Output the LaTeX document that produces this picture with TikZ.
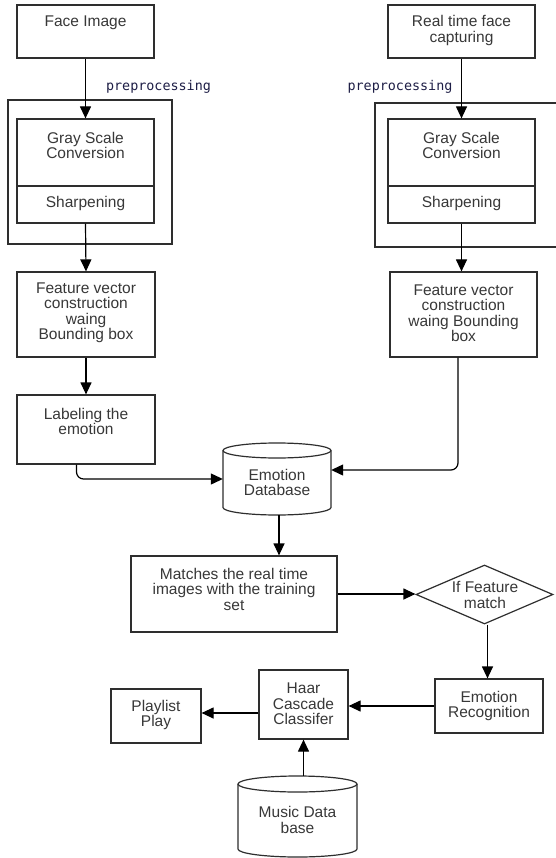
\documentclass[tikz,border=0pt]{standalone}
\usepackage{fontspec}
\setmainfont{Liberation Sans}
\newfontfamily\prepfont{DejaVu Sans Mono}
\usetikzlibrary{arrows.meta,shapes.geometric}
\definecolor{txtc}{HTML}{383838}
\definecolor{linec}{HTML}{2E2E2E}
\definecolor{prepc}{HTML}{1E1E46}
\begin{document}
\begin{tikzpicture}[x=1pt,y=-1pt,
  box/.style={draw=linec, line width=1.2pt, inner sep=0pt},
  hidden/.style={inner sep=0pt},
  txt/.style={text=txtc, font=\fontsize{15.5}{15.5}\selectfont, align=center, inner sep=0pt},
  arr/.style={draw=black, line width=1.2pt, -{Triangle[length=12pt,width=11pt]}},
  cyl/.style={draw=linec, line width=1.2pt},
  prep/.style={text=prepc, font=\prepfont\fontsize{13.4}{14}\selectfont, inner sep=0pt}]
\fill[white] (0,0) rectangle (555,858);
\useasboundingbox (0,0) rectangle (555,858);

% left column
\node[box, minimum width=137pt, minimum height=53pt] (fi) at (85.5,31.5) {};
\node[box, minimum width=164pt, minimum height=144pt] (ol) at (90,172) {};
\node[box, minimum width=137pt, minimum height=67pt] (gl) at (85.5,152.5) {};
\node[box, minimum width=137pt, minimum height=37pt] (sl) at (85.5,204.5) {};
\node[box, minimum width=138pt, minimum height=85pt] (fl) at (86,314.5) {};
\node[box, minimum width=138pt, minimum height=69pt] (lb) at (86,429.5) {};

% right column
\node[box, minimum width=183pt, minimum height=144pt] (orr) at (466.5,175) {};
\node[box, minimum width=147pt, minimum height=53pt] (rt) at (461.5,31.5) {};
\node[box, minimum width=147pt, minimum height=67pt] (gr) at (461.5,152.5) {};
\node[box, minimum width=147pt, minimum height=37pt] (sr) at (461.5,204.5) {};
\node[box, minimum width=147pt, minimum height=85pt] (fr) at (463.5,314.5) {};

% emotion database cylinder
\node[hidden, minimum width=108pt, minimum height=72pt] (edb) at (277,479) {};
\draw[cyl] (277,450.5) ellipse[x radius=54pt, y radius=7.5pt];
\draw[cyl] (223,450.5) -- (223,507.5) arc[start angle=180, end angle=360, x radius=54pt, y radius=7.5pt] -- (331,450.5);

% lower part
\node[box, minimum width=206pt, minimum height=76pt] (mt) at (234,594) {};
\node[box, shape=diamond, minimum width=137pt, minimum height=59pt] (dia) at (484.5,594.5) {};
\node[box, minimum width=108pt, minimum height=54pt] (er) at (489,706) {};
\node[box, minimum width=89pt, minimum height=69pt] (hr) at (303.5,704.5) {};
\node[box, minimum width=90pt, minimum height=54pt] (pl) at (156,716) {};

% music cylinder
\node[hidden, minimum width=119pt, minimum height=81pt] (mu) at (297.5,816.5) {};
\draw[cyl] (297.5,784) ellipse[x radius=59.5pt, y radius=8pt];
\draw[cyl] (238,784) -- (238,849) arc[start angle=180, end angle=360, x radius=59.5pt, y radius=8pt] -- (357,784);

% texts
\node[txt] (t1) at (85.5,22.5) {Face Image};
\node[txt] (t2) at (85.5,145.5) {Gray Scale\\Conversion};
\node[txt] (t3) at (85.5,203.5) {Sharpening};
\node[txt] (t4) at (86,313) {Feature vector\\construction\\waing\\Bounding box};
\node[txt] (t5) at (86,421.5) {Labeling the\\emotion};
\node[txt] (t6) at (461.5,30.5) {Real time face\\capturing};
\node[txt] (t7) at (461.5,145.5) {Gray Scale\\Conversion};
\node[txt] (t8) at (461.5,203.5) {Sharpening};
\node[txt] (t9) at (463.5,313) {Feature vector\\construction\\waing Bounding\\box};
\node[txt] (t10) at (277,482.5) {Emotion\\Database};
\node[txt] (t11) at (234,589) {Matches the real time\\images with the training\\set};
\node[txt] (t12) at (485,595) {If Feature\\match};
\node[txt] (t13) at (489,706) {Emotion\\Recognition};
\node[txt] (t14) at (303.5,704) {Haar\\Cascade\\Classifer};
\node[txt] (t15) at (156,715) {Playlist\\Play};
\node[txt] (t16) at (297.5,820) {Music Data\\base};
\node[prep] (p1) at (158.5,87) {preprocessing};
\node[prep] (p2) at (400,87) {preprocessing};

% connectors
\draw[arr] (fi.south) -- (gl.north);
\draw[arr] (sl.south) -- (fl.north);
\draw[arr] (fl.south) -- (lb.north);
\draw[arr] (rt.south) -- (gr.north);
\draw[arr] (sr.south) -- (sr.south |- fr.north);
\draw[arr, rounded corners=7pt] ([xshift=-9.5pt]lb.south) |- (edb.west);
\draw[arr, rounded corners=7pt] ([xshift=-5.5pt]fr.south) |- ([yshift=9pt]edb.east);
\draw[arr] ([xshift=2pt]edb.south) -- ([xshift=2pt]edb.south |- mt.north);
\draw[arr] (mt.east) -- (mt.east -| dia.west);
\draw[arr] ([xshift=3pt]dia.south) -- ([xshift=3pt]dia.south |- er.north);
\draw[arr] (er.west) -- (er.west -| hr.east);
\draw[arr] ([yshift=-8.5pt]hr.west) -- ([yshift=-8.5pt]hr.west -| pl.east);
\draw[arr] (mu.north -| hr.south) -- (hr.south);
\end{tikzpicture}
\end{document}
